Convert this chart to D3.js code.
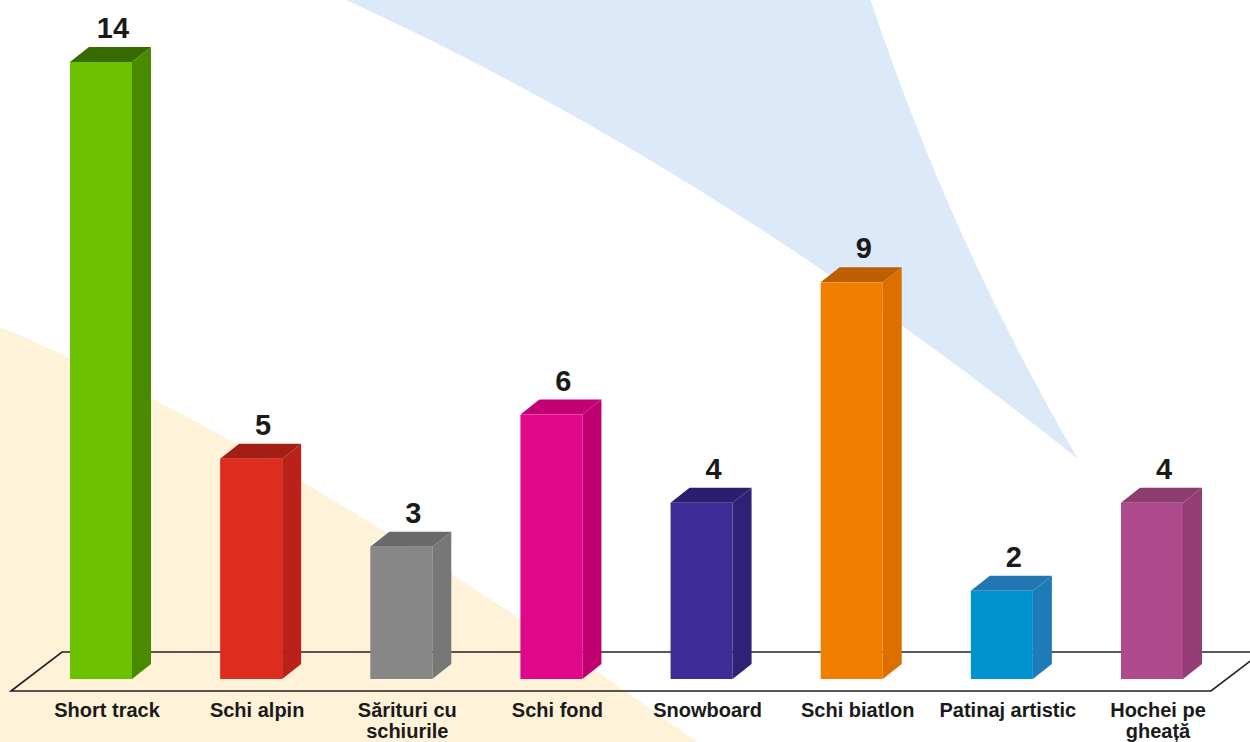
<!DOCTYPE html>
<html>
<head>
<meta charset="utf-8">
<script src="https://cdn.jsdelivr.net/npm/d3@7/dist/d3.min.js"></script>
<style>
  html, body { margin: 0; padding: 0; background: #ffffff; }
  svg { display: block; }
</style>
</head>
<body>
<svg id="chart" width="1250" height="742"></svg>
<script>
const categories = ["Short track", "Schi alpin", "Sărituri cu schiurile", "Schi fond", "Snowboard", "Schi biatlon", "Patinaj artistic", "Hochei pe gheață"];
const values = [14, 5, 3, 6, 4, 9, 2, 4];
const frontColors = ["#6cc200", "#de2d1e", "#878787", "#e0078a", "#3d2b96", "#f07f00", "#0092cc", "#ae4a8b"];
const sideColors  = ["#4a8a00", "#bb2019", "#777777", "#c00070", "#2e2277", "#dc6f00", "#1f7bb8", "#953b75"];
const topColors   = ["#366b00", "#a31e14", "#6a6a6a", "#c20073", "#2a1f6e", "#bd5f00", "#2277b2", "#8a3d6e"];

const W = 1250, H = 742;
const svg = d3.select("#chart");

// background decorative shapes
const cream = d3.path();
cream.moveTo(0, 327);
cream.quadraticCurveTo(289, 448.5, 697, 742);
cream.lineTo(720, 760);
cream.lineTo(0, 760);
cream.closePath();
svg.append("path").attr("d", cream.toString()).attr("fill", "#fef2d9");

const blue = d3.path();
blue.moveTo(335, -5);
blue.quadraticCurveTo(709, 163.8, 1078, 459);
blue.quadraticCurveTo(951, 243, 869, -5);
blue.closePath();
svg.append("path").attr("d", blue.toString()).attr("fill", "#dbe9f8");

// scales
const x = d3.scaleBand()
  .domain(categories)
  .range([70, 1183])
  .paddingInner(0.587)
  .paddingOuter(0);
const y = d3.scaleLinear().domain([0, 14]).range([679, 62]);
const bw = x.bandwidth();
const dx = 19, dy = 15;

// floor
const floorPath = d3.path();
floorPath.moveTo(11, 691);
floorPath.lineTo(62, 652);
floorPath.lineTo(1262, 652);
floorPath.lineTo(1211, 691);
floorPath.closePath();
svg.append("path").attr("d", floorPath.toString())
  .attr("fill", "none").attr("stroke", "#222").attr("stroke-width", 1.6);

// bars
const data = categories.map((c, i) => ({ c, v: values[i], i }));
const g = svg.append("g");
data.forEach(d => {
  const x0 = x(d.c), x1 = x0 + bw;
  const top = y(d.v), bot = y(0);
  const bar = g.append("g");
  bar.append("polygon")
    .attr("points", [[x1, top], [x1 + dx, top - dy], [x1 + dx, bot - dy], [x1, bot]].map(p => p.join(",")).join(" "))
    .attr("fill", sideColors[d.i]);
  bar.append("polygon")
    .attr("points", [[x0, top], [x0 + dx, top - dy], [x1 + dx, top - dy], [x1, top]].map(p => p.join(",")).join(" "))
    .attr("fill", topColors[d.i]);
  bar.append("rect")
    .attr("x", x0).attr("y", top).attr("width", bw).attr("height", bot - top)
    .attr("fill", frontColors[d.i]);
  bar.append("text")
    .attr("x", x0 + bw / 2 + 12).attr("y", top - 24)
    .attr("text-anchor", "middle")
    .attr("font-family", "'Liberation Sans', Arial, sans-serif")
    .attr("font-weight", "bold").attr("font-size", 29)
    .attr("fill", "#1a1a1a")
    .text(d.v);
});

// category labels with wrapping
const labels = svg.append("g")
  .attr("font-family", "'Liberation Sans', Arial, sans-serif")
  .attr("font-weight", "bold").attr("font-size", 20)
  .attr("fill", "#1a1a1a").attr("text-anchor", "middle");
categories.forEach((c, i) => {
  const cx = x(c) + bw / 2 + 6;
  const t = labels.append("text").attr("x", cx).attr("y", 717);
  const words = c.split(" ");
  let line = [];
  let tspan = t.append("tspan").attr("x", cx).attr("dy", 0);
  words.forEach(w => {
    line.push(w);
    tspan.text(line.join(" "));
    if (tspan.node().getComputedTextLength() > 145 && line.length > 1) {
      line.pop();
      tspan.text(line.join(" "));
      line = [w];
      tspan = t.append("tspan").attr("x", cx).attr("dy", 21).text(w);
    }
  });
});
</script>
</body>
</html>
